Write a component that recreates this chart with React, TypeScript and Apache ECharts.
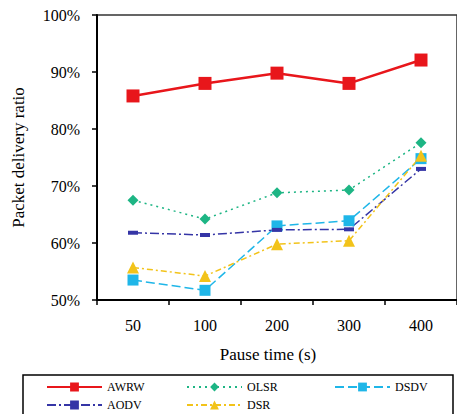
import React, { useEffect, useRef } from "react";
import * as echarts from "echarts";

const categories = ["50", "100", "200", "300", "400"];
const awrw = [85.8, 88.0, 89.8, 88.0, 92.1];
const olsr = [67.5, 64.2, 68.8, 69.3, 77.6];
const dsdv = [53.5, 51.7, 63.0, 63.9, 74.8];
const aodv = [61.8, 61.4, 62.3, 62.4, 73.0];
const dsr = [55.7, 54.2, 59.8, 60.4, 75.3];

const FONT = "'Liberation Serif', 'Times New Roman', 'DejaVu Serif', serif";

export default function App() {
  const ref = useRef<HTMLDivElement>(null);
  useEffect(() => {
    if (!ref.current) return;
    const chart = echarts.init(ref.current, null, { renderer: "svg" });
    const mk = (name: string, data: number[], color: string, type: any, width: number, symbol: string, size: any) => ({
      name,
      type: "line",
      data,
      symbol,
      symbolSize: size,
      itemStyle: { color },
      lineStyle: { color, type, width },
    });
    const leg = (name: string, left: number, top: number) => ({
      data: [name],
      left,
      top,
      itemWidth: 55,
      itemHeight: 11,
      itemTextGap: 0,
      padding: 0,
      textStyle: { fontFamily: FONT, fontSize: 12, color: "#000" },
    });
    chart.setOption({
      animation: false,
      textStyle: { fontFamily: FONT },
      grid: { left: 97, top: 15, right: -1, bottom: 114, show: true, borderColor: "#333", borderWidth: 1.5 },
      xAxis: {
        type: "category",
        data: categories,
        boundaryGap: true,
        name: "Pause time (s)",
        nameLocation: "middle",
        nameGap: 46,
        nameTextStyle: { fontFamily: FONT, fontSize: 17, color: "#000", padding: [0, 18, 0, 0] },
        axisLine: { lineStyle: { color: "#000", width: 2 } },
        axisTick: { show: true, length: 5, lineStyle: { color: "#000", width: 1.5 } },
        axisLabel: { fontFamily: FONT, fontSize: 16, color: "#000", margin: 17 },
      },
      yAxis: {
        type: "value",
        min: 50,
        max: 100,
        interval: 10,
        name: "Packet delivery ratio",
        nameLocation: "middle",
        nameGap: 70,
        nameTextStyle: { fontFamily: FONT, fontSize: 17, color: "#000" },
        axisLine: { show: true, lineStyle: { color: "#000", width: 2 } },
        axisTick: { show: true, length: 5, lineStyle: { color: "#000", width: 1.5 } },
        splitLine: { show: false },
        axisLabel: { fontFamily: FONT, fontSize: 16, color: "#000", margin: 17, formatter: "{value}%" },
      },
      legend: [
        leg("AWRW", 46, 381),
        leg("OLSR", 186, 381),
        leg("DSDV", 334, 381),
        leg("AODV", 46, 399),
        leg("DSR", 186, 399),
      ],
      graphic: [
        {
          type: "rect",
          shape: { x: 23, y: 375, width: 430, height: 60 },
          style: { fill: "none", stroke: "#000", lineWidth: 1.5 },
          silent: true,
        },
      ],
      series: [
        mk("AWRW", awrw, "#e8161b", "solid", 2.5, "rect", 13),
        mk("OLSR", olsr, "#1db584", [2, 4], 1.5, "diamond", 11),
        mk("DSDV", dsdv, "#1fb6e8", [9, 4], 1.5, "rect", 11),
        mk("AODV", aodv, "#3535a6", [9, 3, 2, 3], 1.5, "rect", [10, 4]),
        mk("DSR", dsr, "#f2c31a", [6, 3, 2, 3], 1.5, "triangle", 12),
      ],
    });
    return () => chart.dispose();
  }, []);
  return <div ref={ref} style={{ width: 457, height: 414, position: "absolute", left: 0, top: 0 }} />;
}
